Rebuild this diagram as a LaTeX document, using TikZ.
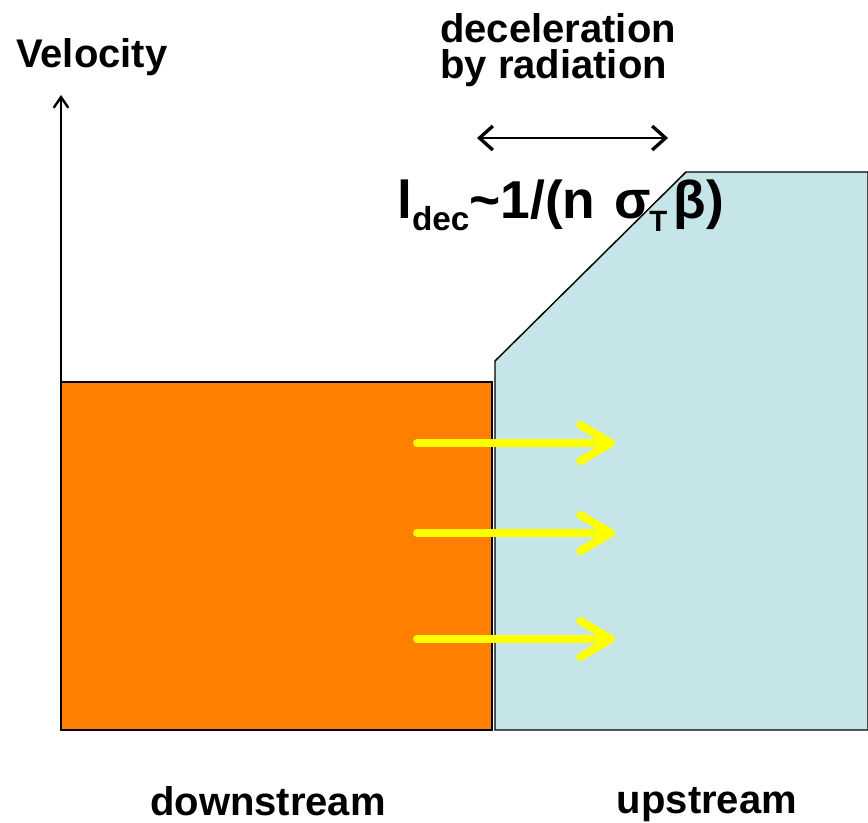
\documentclass[tikz,border=0pt]{standalone}
\usepackage{fontspec}
\setmainfont{Liberation Sans}
\usetikzlibrary{arrows.meta}
\definecolor{hotorange}{HTML}{FF7F00}
\definecolor{paleblue}{HTML}{C5E5E8}
\definecolor{flowyellow}{HTML}{FFFF00}

\begin{document}
\begin{tikzpicture}[
  x=0.75pt, y=-0.75pt,
  tag/.style={inner sep=0pt, font=\fontsize{30}{27}\selectfont\bfseries},
  flow/.style={-{Straight Barb[length=23pt, width=27pt, round]},
               line width=6pt, line cap=round, color=flowyellow},
  span/.style={{Straight Barb[length=10pt, width=18pt, line width=2.5pt]}-{Straight Barb[length=10pt, width=18pt, line width=2.5pt]},
               line width=1.2pt},
  axis/.style={-{Straight Barb[length=8pt, width=11pt, line width=1.8pt]}, line width=1pt}
]
  \useasboundingbox (0,0) rectangle (868,822);

  % regions
  \filldraw[fill=paleblue, line width=1.1pt] (495,730) -- (495,361) -- (686,172) -- (868,172) -- (868,730) -- cycle;
  \filldraw[fill=hotorange, line width=1.5pt] (61,382) rectangle (492,730);

  % velocity axis
  \coordinate (origin) at (61,382);
  \coordinate (vtop) at (61,95);
  \draw[axis] (origin) -- (vtop);
  \node[tag, anchor=base west] (vel) at (16,67) {Velocity};

  % flow arrows
  \foreach \y [count=\i] in {443,533,639} {
    \coordinate (s\i) at (417,\y);
    \coordinate (e\i) at (615,\y);
    \draw[flow] (s\i) -- (e\i);
  }

  % deceleration length
  \coordinate (decL) at (477,138);
  \coordinate (decR) at (668,138);
  \draw[span] (decL) -- (decR);
  \node[tag, anchor=base west, align=left] (decel) at (440,78) {deceleration\\by radiation};
  \node[anchor=base west, inner sep=0pt, font=\fontsize{40}{40}\selectfont\bfseries] (ldec) at (397,218)
    {l\raisebox{-9pt}{\fontsize{25}{25}\selectfont dec}\textasciitilde 1/(n\hspace{14pt}σ\hspace{-1pt}\raisebox{-10pt}{\fontsize{22}{22}\selectfont T}\hspace{5pt}β)};

  % labels
  \node[tag, anchor=base] (down) at (268,815) {downstream};
  \node[tag, anchor=base] (up) at (707,813) {upstream};
\end{tikzpicture}
\end{document}
